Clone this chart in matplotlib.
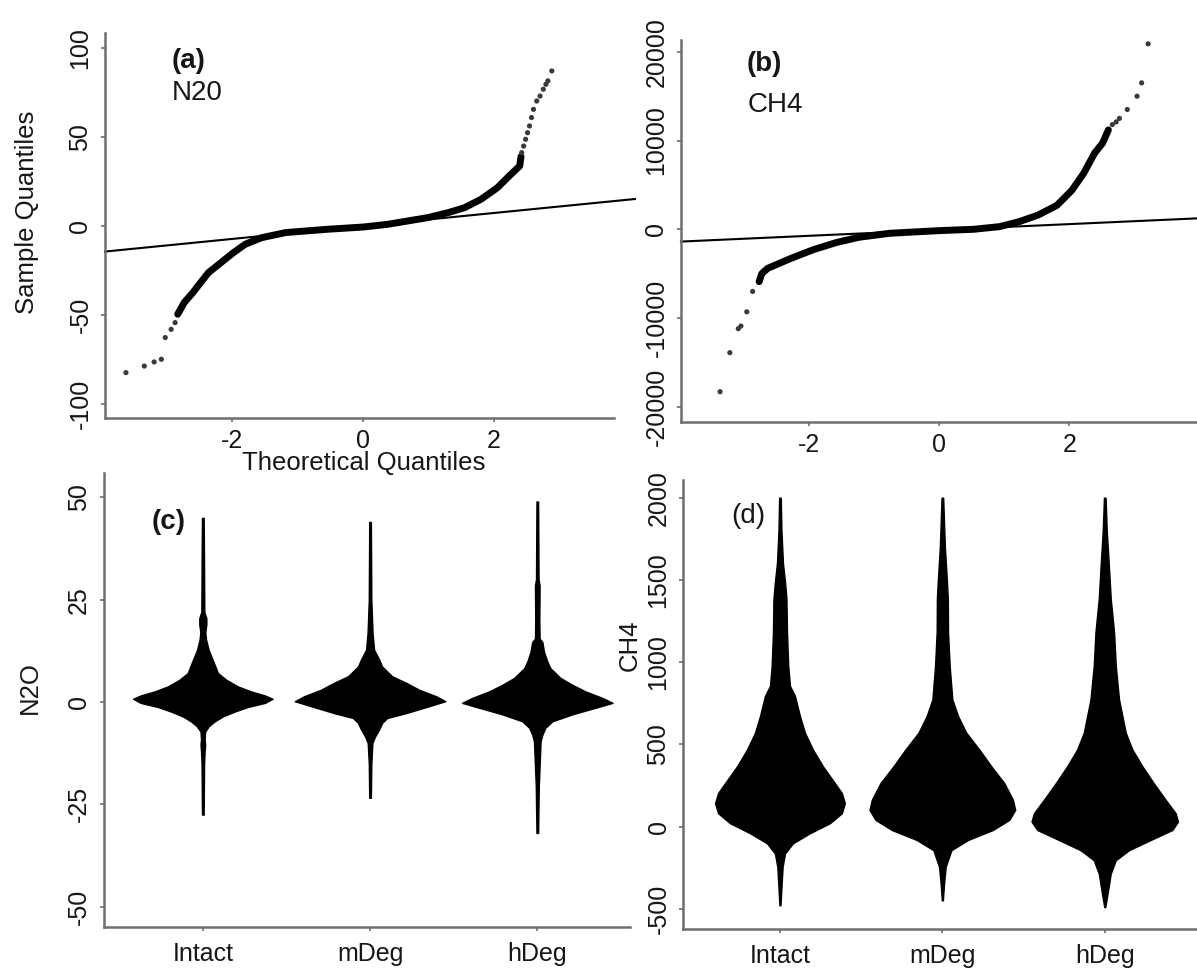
import matplotlib
matplotlib.use("Agg")
import matplotlib.pyplot as plt
import matplotlib.transforms as mtrans

plt.rcParams['font.family'] = ['Liberation Sans', 'DejaVu Sans']
plt.rcParams['axes.unicode_minus'] = False

# ---- (a) N2O normal QQ plot ----
a_dense_x = [-2.83, -2.73, -2.60, -2.48, -2.36, -2.17, -1.98, -1.80, -1.55, -1.18, -0.56, 0.0,
             0.37, 0.68, 0.99, 1.30, 1.55, 1.80, 2.05, 2.23, 2.39, 2.41]
a_dense_y = [-49.6, -43.0, -37.5, -31.8, -26.2, -20.6, -15.0, -10.3, -6.6, -3.7, -1.9, -0.6,
             0.9, 2.8, 4.7, 7.5, 10.3, 15.0, 21.5, 28.1, 33.7, 39.0]
a_tail_x = [-3.62, -3.34, -3.19, -3.08, -3.02, -2.93, -2.87,
            2.42, 2.45, 2.48, 2.51, 2.54, 2.57, 2.60, 2.65, 2.70, 2.75, 2.79, 2.82, 2.88]
a_tail_y = [-82.4, -78.7, -76.4, -74.9, -62.7, -58.1, -54.3,
            41.2, 44.9, 48.7, 52.4, 56.2, 60.9, 65.5, 70.2, 73.0, 76.8, 79.6, 81.5, 87.1]
a_line = (0.0, 3.65)  # intercept, slope

# ---- (b) CH4 normal QQ plot ----
b_dense_x = [-2.76, -2.72, -2.63, -2.28, -1.93, -1.58, -1.23, -0.76, 0.0, 0.53, 0.93, 1.23,
             1.52, 1.81, 2.04, 2.22, 2.39, 2.51, 2.60]
b_dense_y = [-5900, -5000, -4400, -3300, -2300, -1500, -900, -450, -150, 0, 300, 860,
             1600, 2700, 4400, 6300, 8600, 9700, 11200]
b_tail_x = [-3.36, -3.21, -3.08, -3.04, -2.95, -2.86,
            2.66, 2.72, 2.77, 2.89, 3.04, 3.11, 3.21]
b_tail_y = [-18300, -13900, -11200, -10900, -9300, -7000,
            11800, 12100, 12500, 13500, 15000, 16500, 20900]
b_line = (-75.0, 330.0)

groups = ['Intact', 'mDeg', 'hDeg']

# ---- (c) N2O violins: value levels and relative density ----
c_y = {
    'Intact': [45, 35, 30, 22, 20.5, 19, 17, 15.2, 12.8, 11.2, 9.6, 7.1, 5.5, 3.8, 2.6, 1.6, 0.8,
               -0.2, -1.2, -2.3, -3.5, -4.7, -5.9, -7.2, -9, -10.5, -12, -15, -27.5],
    'mDeg': [44, 25, 16.9, 12.8, 10.4, 8.7, 6.3, 4.7, 3.0, 1.4, 0.2, -1.0, -2.7, -3.9, -5.1,
             -6.7, -8.4, -10, -15, -23.4],
    'hDeg': [49, 30, 28.5, 20, 15.5, 14.7, 12.3, 9.9, 8.3, 5.9, 4.2, 2.6, 1.0, -0.2, -1.4, -3.0,
             -4.7, -6.3, -8.0, -9.6, -20.6, -32],
}
c_dens = {
    'Intact': [0.011, 0.016, 0.017, 0.02, 0.047, 0.047, 0.033, 0.044, 0.076, 0.111, 0.147, 0.2,
               0.307, 0.467, 0.64, 0.827, 0.927, 0.827, 0.6, 0.427, 0.267, 0.16, 0.08, 0.031,
               0.024, 0.031, 0.024, 0.017, 0.011],
    'mDeg': [0.011, 0.017, 0.033, 0.053, 0.12, 0.16, 0.293, 0.48, 0.653, 0.88, 1.0, 0.787, 0.48,
             0.227, 0.16, 0.12, 0.067, 0.031, 0.017, 0.011],
    'hDeg': [0.011, 0.017, 0.031, 0.027, 0.031, 0.067, 0.089, 0.133, 0.173, 0.307, 0.467, 0.64,
             0.867, 1.0, 0.773, 0.467, 0.2, 0.107, 0.067, 0.044, 0.02, 0.011],
}

# ---- (d) CH4 violins ----
d_y = {
    'Intact': [2000, 1800, 1600, 1490, 1386, 1182, 978, 856, 795, 673, 571, 469, 367, 265, 204,
               143, 82, 21, -40, -101, -163, -244, -346, -478],
    'mDeg': [2000, 1700, 1500, 1386, 1182, 978, 774, 673, 571, 469, 367, 265, 163, 102, 41, -20,
             -81, -143, -244, -346, -448],
    'hDeg': [2000, 1800, 1600, 1490, 1386, 1182, 978, 774, 571, 469, 367, 265, 163, 82, 31, -20,
             -81, -143, -204, -285, -387, -489],
}
d_dens = {
    'Intact': [0.011, 0.02, 0.041, 0.068, 0.088, 0.095, 0.112, 0.135, 0.203, 0.27, 0.338, 0.446,
               0.581, 0.743, 0.838, 0.878, 0.838, 0.676, 0.405, 0.176, 0.068, 0.036, 0.023, 0.007],
    'mDeg': [0.011, 0.034, 0.061, 0.074, 0.077, 0.099, 0.135, 0.212, 0.324, 0.5, 0.662, 0.838,
             0.955, 0.986, 0.905, 0.685, 0.347, 0.122, 0.045, 0.023, 0.007],
    'hDeg': [0.011, 0.027, 0.054, 0.068, 0.081, 0.126, 0.149, 0.193, 0.284, 0.374, 0.509, 0.662,
             0.824, 0.959, 0.991, 0.915, 0.622, 0.328, 0.149, 0.081, 0.045, 0.007],
}

AXCOL = '#6e6e6e'
TXT = '#161616'
FS = 18
W, H = 1197, 971

fig = plt.figure(figsize=(11.97, 9.71), dpi=100)
ax_a = fig.add_axes([0.0877, 0.5695, 0.4428, 0.3965])
ax_b = fig.add_axes([0.5689, 0.5657, 0.4311, 0.3931])
ax_c = fig.add_axes([0.0866, 0.0456, 0.4398, 0.4670])
ax_d = fig.add_axes([0.5706, 0.0433, 0.4294, 0.4624])


def ftext(px, py, s, **kw):
    fig.text(px / W, 1 - py / H, s, color=TXT, **kw)


def style(ax, xpad, ypad):
    for s in ['top', 'right']:
        ax.spines[s].set_visible(False)
    for s in ['left', 'bottom']:
        ax.spines[s].set_color(AXCOL)
        ax.spines[s].set_linewidth(1.8)
    ax.tick_params(direction='out', length=3, width=1.2, color=AXCOL,
                   labelsize=FS, labelcolor=TXT)
    ax.tick_params(axis='x', pad=xpad)
    ax.tick_params(axis='y', pad=ypad, labelrotation=90)
    for lab in ax.get_yticklabels():
        lab.set_va('center')
    ax.patch.set_alpha(0)


def qq(ax, dx, dy, tx, ty, line, xlim, ylim):
    ax.set_xlim(*xlim)
    ax.set_ylim(*ylim)
    ax.plot(dx, dy, color='black', lw=5, solid_capstyle='round', solid_joinstyle='round', zorder=3)
    ax.scatter(tx, ty, s=14, color='#3a3a3a', edgecolors='none', zorder=3)
    b0, b1 = line
    ax.plot(xlim, [b0 + b1 * xlim[0], b0 + b1 * xlim[1]], color='black', lw=1.5, zorder=2,
            clip_on=False)


# (a)
qq(ax_a, a_dense_x, a_dense_y, a_tail_x, a_tail_y, a_line, (-3.94, 4.15), (-107.9, 108.4))
ax_a.set_xticks([-2, 0, 2])
ax_a.set_yticks([-100, -50, 0, 50, 100])
ax_a.spines['bottom'].set_bounds(-3.94, 3.83)
style(ax_a, 5, 6)

# (b)
qq(ax_b, b_dense_x, b_dense_y, b_tail_x, b_tail_y, b_line, (-3.96, 3.96), (-21680, 21330))
ax_b.set_xticks([-2, 0, 2])
ax_b.set_yticks([-20000, -10000, 0, 10000, 20000])
style(ax_b, 5, 6)


def violins(ax, ys, dens, scale, xlim, ylim, ticks):
    for i, g in enumerate(groups):
        pos = i + 1
        w = [scale * d for d in dens[g]]
        ax.fill_betweenx(ys[g], [pos - v for v in w], [pos + v for v in w],
                         color='black', lw=1.0, edgecolor='black', zorder=3)
    ax.set_xlim(*xlim)
    ax.set_ylim(*ylim)
    ax.set_xticks([1, 2, 3])
    ax.set_xticklabels(groups)
    ax.set_yticks(ticks)
    shift = mtrans.ScaledTranslation(0.12, 0, fig.dpi_scale_trans)
    for lab in ax.get_xticklabels():
        lab.set_transform(lab.get_transform() + shift)


# (c)
violins(ax_c, c_y, c_dens, 0.45, (0.407, 3.555), (-54.9, 55.9), [-50, -25, 0, 25, 50])
style(ax_c, 8, 6)

# (d)
violins(ax_d, d_y, d_dens, 0.455, (0.403, 3.568), (-622, 2108), [-500, 0, 500, 1000, 1500, 2000])
style(ax_d, 8, 6)

# panel tags
ftext(172, 61, '(a)', fontsize=20, fontweight='bold', ha='left', va='center')
ftext(172, 93, 'N20', fontsize=20, ha='left', va='center')
ftext(747, 64, '(b)', fontsize=20, fontweight='bold', ha='left', va='center')
ftext(748, 105, 'CH4', fontsize=20, ha='left', va='center')
ftext(152, 522, '(c)', fontsize=20, fontweight='bold', ha='left', va='center')
ftext(731, 516, '(d)', fontsize=20, ha='left', va='center')

# axis titles placed like the original figure
ftext(27, 212, 'Sample Quantiles', rotation=90, fontsize=18.5, ha='center', va='center')
ftext(364, 463, 'Theoretical Quantiles', fontsize=18.5, ha='center', va='center')
ftext(30, 688, 'N2O', rotation=90, fontsize=18.5, ha='center', va='center')
ftext(630, 645, 'CH4', rotation=90, fontsize=18.5, ha='center', va='center')

fig.savefig('out.png', dpi=100, facecolor='white')
